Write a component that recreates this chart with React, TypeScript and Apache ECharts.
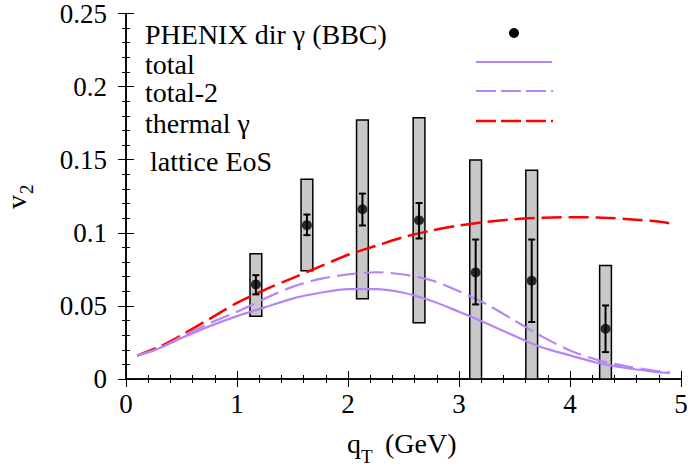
import React, { useEffect, useRef } from "react";
import * as echarts from "echarts";

const qT = [1.17, 1.63, 2.13, 2.64, 3.15, 3.655, 4.32];
const v2 = [0.0647, 0.1052, 0.1161, 0.1086, 0.0729, 0.0672, 0.0344];
const statLow = [0.0579, 0.0984, 0.105, 0.0961, 0.051, 0.039, 0.0184];
const statHigh = [0.071, 0.1125, 0.1268, 0.1204, 0.0954, 0.0954, 0.0503];
const sysLow = [0.043, 0.074, 0.0549, 0.0385, 0, 0, 0];
const sysHigh = [0.0856, 0.1366, 0.1771, 0.1787, 0.1498, 0.1428, 0.0777];
const boxHalfWidth = 0.053;

const curveQ = [0.1, 0.3, 0.5, 0.75, 1.0, 1.25, 1.5, 1.75, 2.0, 2.25, 2.5, 2.75, 3.0, 3.25, 3.5, 3.75, 4.0, 4.25, 4.5, 4.75, 4.9];
const thermal = [0.016, 0.022, 0.030, 0.041, 0.052, 0.061, 0.069, 0.077, 0.085, 0.091, 0.097, 0.1015, 0.105, 0.1075, 0.1093, 0.1103, 0.1107, 0.1105, 0.1095, 0.108, 0.1065];
const total = [0.016, 0.021, 0.028, 0.036, 0.043, 0.049, 0.055, 0.059, 0.0615, 0.0615, 0.059, 0.0535, 0.046, 0.038, 0.0295, 0.0215, 0.0162, 0.011, 0.0075, 0.0051, 0.0041];
const total2 = [0.016, 0.021, 0.029, 0.038, 0.046, 0.055, 0.063, 0.0685, 0.0715, 0.073, 0.0715, 0.0675, 0.060, 0.051, 0.040, 0.029, 0.0195, 0.013, 0.0088, 0.0058, 0.0045];

const legendLabels = ["PHENIX dir \u03b3 (BBC)", "total", "total-2", "thermal \u03b3", "lattice EoS"];

const FONT = "Liberation Serif";
const PURPLE = "#b784f5";
const RED = "#ff0000";

export default function App() {
  const ref = useRef<HTMLDivElement>(null);
  useEffect(() => {
    if (!ref.current) return;
    const chart = echarts.init(ref.current, null, { renderer: "svg" });
    const pair = (ys: number[]) => curveQ.map((q, i) => [q, ys[i]]);
    const axisCommon = {
      axisLine: { show: true, lineStyle: { color: "#000", width: 1.5 } },
      axisTick: { show: true, inside: true, length: 8, lineStyle: { color: "#000", width: 1 } },
      minorTick: { show: true, splitNumber: 5, length: 4, lineStyle: { color: "#000", width: 1 } },
      splitLine: { show: false },
    };
    const textBase = { fontFamily: FONT, fontSize: 28, fill: "#000" };
    const labelStyle = { fontFamily: FONT, fontSize: 27, color: "#000" };
    chart.setOption({
      animation: false,
      textStyle: { fontFamily: FONT },
      grid: { left: 126, right: 13, top: 13, bottom: 90 },
      xAxis: [
        {
          type: "value", min: 0, max: 5, interval: 1, ...axisCommon,
          axisLabel: { ...labelStyle, margin: 11 },
        },
        {
          type: "value", position: "top", min: 0, max: 5, interval: 1, ...axisCommon,
          axisLabel: { show: false },
        },
      ],
      yAxis: [
        {
          type: "value", min: 0, max: 0.25, interval: 0.05, ...axisCommon,
          axisLabel: { ...labelStyle, margin: 19 },
        },
        {
          type: "value", position: "right", min: 0, max: 0.25, interval: 0.05, ...axisCommon,
          axisLabel: { show: false },
        },
      ],
      series: [
        {
          type: "custom",
          name: "sys",
          z: 1,
          clip: true,
          data: qT.map((q, i) => [q, sysLow[i], sysHigh[i]]),
          renderItem: (params: any, api: any) => {
            const x = api.value(0);
            const p1 = api.coord([x - boxHalfWidth, api.value(2)]);
            const p2 = api.coord([x + boxHalfWidth, api.value(1)]);
            return {
              type: "rect",
              shape: { x: p1[0], y: p1[1], width: p2[0] - p1[0], height: p2[1] - p1[1] },
              style: { fill: "#c8c8c8", stroke: "#000", lineWidth: 1.5 },
            };
          },
        },
        {
          type: "line", name: "thermal", z: 3, showSymbol: false, smooth: 0.3,
          data: pair(thermal),
          lineStyle: { color: RED, width: 2.5, type: [20, 7] },
        },
        {
          type: "line", name: "total-2", z: 3, showSymbol: false, smooth: 0.3,
          data: pair(total2),
          lineStyle: { color: PURPLE, width: 2.2, type: [20, 7] },
        },
        {
          type: "line", name: "total", z: 3, showSymbol: false, smooth: 0.3,
          data: pair(total),
          lineStyle: { color: PURPLE, width: 2.2 },
        },
        {
          type: "custom",
          name: "stat",
          z: 4,
          data: qT.map((q, i) => [q, statLow[i], statHigh[i]]),
          renderItem: (params: any, api: any) => {
            const x = api.value(0);
            const lo = api.coord([x, api.value(1)]);
            const hi = api.coord([x, api.value(2)]);
            const c = 3.5;
            const st = { stroke: "#000", lineWidth: 2 };
            return {
              type: "group",
              children: [
                { type: "line", shape: { x1: lo[0], y1: lo[1], x2: hi[0], y2: hi[1] }, style: st },
                { type: "line", shape: { x1: lo[0] - c, y1: lo[1], x2: lo[0] + c, y2: lo[1] }, style: st },
                { type: "line", shape: { x1: hi[0] - c, y1: hi[1], x2: hi[0] + c, y2: hi[1] }, style: st },
              ],
            };
          },
        },
        {
          type: "scatter", name: "PHENIX", z: 5, symbol: "circle", symbolSize: 10,
          itemStyle: { color: "#000" },
          data: qT.map((q, i) => [q, v2[i]]),
        },
      ],
      graphic: [
        { type: "text", x: 145, y: 34, style: { ...textBase, text: legendLabels[0], verticalAlign: "middle" } },
        { type: "text", x: 145, y: 64, style: { ...textBase, text: legendLabels[1], verticalAlign: "middle" } },
        { type: "text", x: 145, y: 92, style: { ...textBase, text: legendLabels[2], verticalAlign: "middle" } },
        { type: "text", x: 145, y: 123, style: { ...textBase, text: legendLabels[3], verticalAlign: "middle" } },
        { type: "text", x: 150, y: 161, style: { ...textBase, text: legendLabels[4], verticalAlign: "middle" } },
        { type: "circle", shape: { cx: 514, cy: 33, r: 5 }, style: { fill: "#000" } },
        { type: "line", shape: { x1: 476, y1: 62, x2: 552, y2: 62 }, style: { stroke: PURPLE, lineWidth: 2.2 } },
        { type: "line", shape: { x1: 476, y1: 91, x2: 553, y2: 91 }, style: { stroke: PURPLE, lineWidth: 2.2, lineDash: [20, 5] } },
        { type: "line", shape: { x1: 476, y1: 121, x2: 553, y2: 121 }, style: { stroke: RED, lineWidth: 2.5, lineDash: [20, 5] } },
        { type: "text", x: 347, y: 443, style: { ...textBase, text: "q", verticalAlign: "middle" } },
        { type: "text", x: 361, y: 456, style: { ...textBase, fontSize: 19, text: "T", verticalAlign: "middle" } },
        { type: "text", x: 385, y: 443, style: { ...textBase, text: "(GeV)", verticalAlign: "middle" } },
        {
          type: "group", x: 16, y: 209, rotation: Math.PI / 2,
          children: [
            { type: "text", x: 0, y: 0, style: { ...textBase, text: "v", verticalAlign: "middle" } },
            { type: "text", x: 15, y: 10, style: { ...textBase, fontSize: 19, text: "2", verticalAlign: "middle" } },
          ],
        },
      ],
    });
    return () => chart.dispose();
  }, []);
  return <div ref={ref} style={{ position: "fixed", left: 0, top: 0, width: 694, height: 469, background: "#fff" }} />;
}
